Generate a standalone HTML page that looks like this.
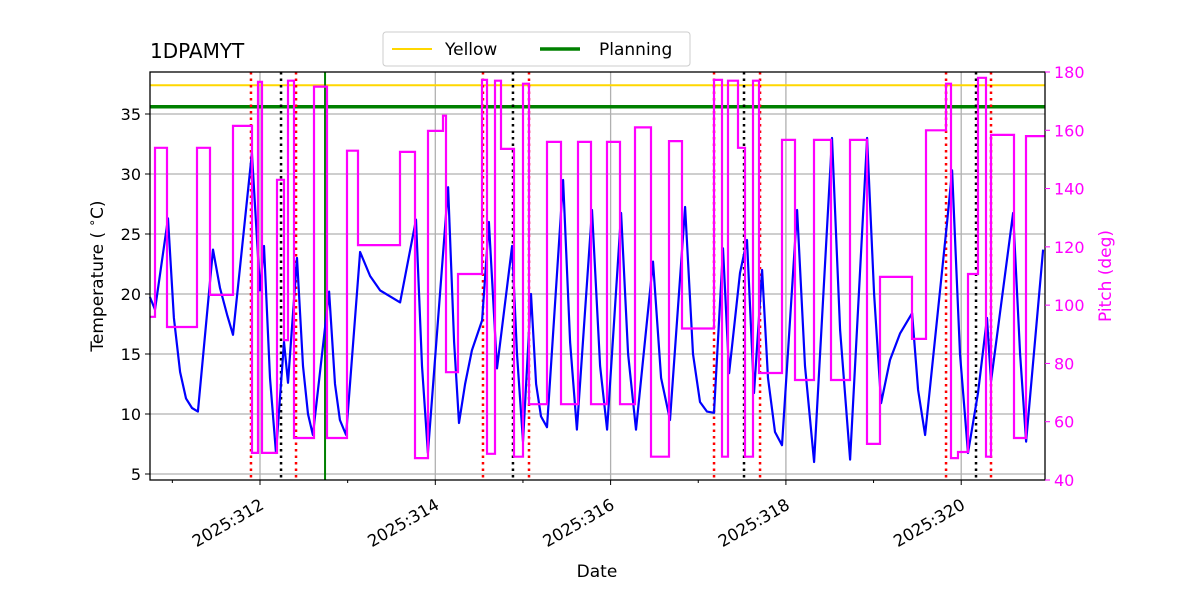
<!DOCTYPE html>
<html><head><meta charset="utf-8"><style>
body{margin:0;background:#fff;}
svg text{font-family:"DejaVu Sans","Liberation Sans",sans-serif;}
</style></head><body>
<svg id="chart" width="1200" height="600" xmlns="http://www.w3.org/2000/svg">
<rect width="1200" height="600" fill="#fff"/>
<g id="grid"></g>
<g id="events"></g>
<g id="series"></g>
<rect x="150" y="72" width="895" height="408" fill="none" stroke="#000" stroke-width="1.3"/>
<g id="axes"></g>
<text x="150" y="58" font-size="20">1DPAMYT</text>
<text x="597" y="577" font-size="17" text-anchor="middle">Date</text>
<text transform="translate(103,276) rotate(-90)" font-size="17" text-anchor="middle">Temperature ( <tspan font-size="12" dy="-7">∘</tspan><tspan dy="7">C)</tspan></text>
<text transform="translate(1111,276) rotate(-90)" font-size="17" fill="#ff00ff" text-anchor="middle">Pitch (deg)</text>
<g>
<rect x="383" y="32" width="307" height="34" rx="3" fill="#fff" stroke="#ccc"/>
<line x1="392" y1="49" x2="432" y2="49" stroke="#ffd700" stroke-width="2"/>
<text x="445" y="55" font-size="17">Yellow</text>
<line x1="540" y1="49" x2="580" y2="49" stroke="#008000" stroke-width="3.5"/>
<text x="599" y="55" font-size="17">Planning</text>
</g>
</svg>
<script>
const tempTimes=[310.744,310.802,310.950,311.018,311.088,311.156,311.224,311.292,311.464,311.544,311.624,311.692,311.908,312.000,312.046,312.114,312.182,312.274,312.320,312.422,312.490,312.548,312.604,312.788,312.856,312.912,312.982,313.142,313.256,313.370,313.598,313.780,313.848,313.916,314.146,314.214,314.270,314.340,314.418,314.534,314.612,314.704,314.876,314.932,315.000,315.092,315.150,315.206,315.274,315.458,315.538,315.616,315.788,315.880,315.960,316.120,316.200,316.290,316.484,316.576,316.678,316.850,316.940,317.020,317.100,317.180,317.282,317.352,317.476,317.556,317.636,317.728,317.796,317.876,317.956,318.128,318.218,318.322,318.526,318.618,318.732,318.926,319.006,319.086,319.188,319.302,319.440,319.508,319.588,319.838,319.896,319.986,320.078,320.192,320.294,320.340,320.592,320.672,320.740,320.934];
const tempValues=[19.75,18.7,26.3,18,13.5,11.3,10.5,10.2,23.7,20.5,18.3,16.6,31.75,20.3,24,13,6.75,16,12.6,23,14,10,8.25,20.2,12.5,9.5,8.25,23.5,21.5,20.3,19.3,26.2,14,6.75,28.9,16,9.25,12.5,15.3,17.8,26,13.8,24,15,7.7,20,12.5,9.8,8.9,29.5,16,8.7,27,14,8.7,26.75,15,8.7,22.7,13,9.5,27.25,15,11,10.2,10.1,23.8,13.4,21.75,24.5,11.75,22,13,8.5,7.4,27,14,6,33,17,6.2,33,20,10.9,14.5,16.7,18.4,12,8.25,25.9,30.3,15,6.75,11.75,18,12.7,26.75,15,7.7,23.7];
const pitchTimes=[310.745,310.802,310.939,311.281,311.430,311.692,311.909,311.977,312.023,312.194,312.274,312.319,312.388,312.616,312.764,312.993,313.118,313.597,313.768,313.917,314.088,314.122,314.259,314.533,314.590,314.681,314.750,314.898,315.001,315.069,315.274,315.434,315.628,315.776,315.959,316.107,316.278,316.461,316.666,316.815,317.180,317.271,317.339,317.453,317.533,317.625,317.693,317.956,318.104,318.321,318.514,318.731,318.925,319.074,319.439,319.598,319.827,319.884,319.963,320.078,320.192,320.283,320.340,320.602,320.739];
const pitchValues=[96,154,92.5,154,103.5,161.5,49.3,176.6,49.3,143,88,177,54.4,175,54.4,153,120.6,152.6,47.5,159.8,165,77,110.7,177.3,49,177,153.6,48,176,66,156,66,156,66,156,66,161,48,156.3,92,177.3,48,177,154,48,177,76.7,156.7,74.3,156.7,74.3,156.7,52.4,109.7,88.4,160,176,47.5,49.6,110.7,178,48,158.4,54.4,158];
const redEvents=[311.897,312.411,314.544,315.069,317.180,317.705,319.827,320.340];
const blackEvents=[312.240,314.886,317.522,320.169];
const greenEvents=[312.742];
const yellowLimit=37.4;
const planningLimit=35.6;
const xTickDays=[312,314,316,318,320];
const xMinorDays=[311,313,315,317,319];
const yTicks=[5,10,15,20,25,30,35];
const y2Ticks=[40,60,80,100,120,140,160,180];

const X0=150,X1=1045,Y0=72,Y1=480;
const D0=310.745,D1=320.956;
const x=d=>X0+(d-D0)/(D1-D0)*(X1-X0);
const y=t=>Y1-(t-4.5)/(38.5-4.5)*(Y1-Y0);
const y2=p=>Y1-(p-40)/(180-40)*(Y1-Y0);
const NS='http://www.w3.org/2000/svg';
function mk(tag,attrs,parent){const e=document.createElementNS(NS,tag);for(const k in attrs)e.setAttribute(k,attrs[k]);parent.appendChild(e);return e;}
const grid=document.getElementById('grid'),ev=document.getElementById('events'),se=document.getElementById('series'),ax=document.getElementById('axes');

yTicks.forEach(t=>{const l=mk('line',{x1:X0,x2:X1,y1:y(t),y2:y(t),stroke:'#b0b0b0','stroke-width':1.3},grid);


const tk=mk('line',{x1:X0-5,x2:X0,y1:y(t),y2:y(t),stroke:'#000','stroke-width':1},ax);


const tx=mk('text',{x:X0-9,y:y(t)+6,'font-size':16,'text-anchor':'end'},ax);tx.textContent=t;

});
xTickDays.forEach(d=>{const l=mk('line',{x1:x(d),x2:x(d),y1:Y0,y2:Y1,stroke:'#b0b0b0','stroke-width':1.3},grid);


const tk=mk('line',{x1:x(d),x2:x(d),y1:Y1,y2:Y1+5,stroke:'#000'},ax);


const tx=mk('text',{transform:`translate(${x(d)+5},${Y1+28}) rotate(-30)`,'font-size':16.5,'text-anchor':'end'},ax);tx.textContent='2025:'+d;

});
xMinorDays.forEach(d=>{const tk=mk('line',{x1:x(d),x2:x(d),y1:Y1,y2:Y1+3,stroke:'#000'},ax);

});
y2Ticks.forEach(p=>{const tk=mk('line',{x1:X1,x2:X1+5,y1:y2(p),y2:y2(p),stroke:'#ff00ff'},ax);


const tx=mk('text',{x:X1+9,y:y2(p)+6,'font-size':16,fill:'#ff00ff'},ax);tx.textContent=p;

});

[[yellowLimit,'#ffd700',2,'yellow-limit-line'],[planningLimit,'#008000',3.5,'planning-limit-line']].forEach(([v,c,w,n])=>{
const l=mk('line',{x1:X0,x2:X1,y1:y(v),y2:y(v),stroke:c,'stroke-width':w},ev);

});
redEvents.forEach(d=>{const l=mk('line',{x1:x(d),x2:x(d),y1:Y0,y2:Y1,stroke:'#ff0000','stroke-width':2.5,'stroke-dasharray':'2.5 4'},ev);

});
blackEvents.forEach(d=>{const l=mk('line',{x1:x(d),x2:x(d),y1:Y0,y2:Y1,stroke:'#000','stroke-width':2.5,'stroke-dasharray':'2.5 4'},ev);

});
greenEvents.forEach(d=>{const l=mk('line',{x1:x(d),x2:x(d),y1:Y0,y2:Y1,stroke:'#008000','stroke-width':2},ev);

});

let tp=tempTimes.map((d,i)=>x(d).toFixed(1)+','+y(tempValues[i]).toFixed(1)).join(' ');
const tl=mk('polyline',{points:tp,fill:'none',stroke:'#0000ff','stroke-width':2.2,'stroke-linejoin':'round'},se);


let pp=[];
pitchTimes.forEach((d,i)=>{const nx=i+1<pitchTimes.length?pitchTimes[i+1]:D1;
pp.push(x(d).toFixed(1)+','+y2(pitchValues[i]).toFixed(1));pp.push(x(nx).toFixed(1)+','+y2(pitchValues[i]).toFixed(1));});
const pl=mk('polyline',{points:pp.join(' '),fill:'none',stroke:'#ff00ff','stroke-width':2.2},se);


</script>
</body></html>
